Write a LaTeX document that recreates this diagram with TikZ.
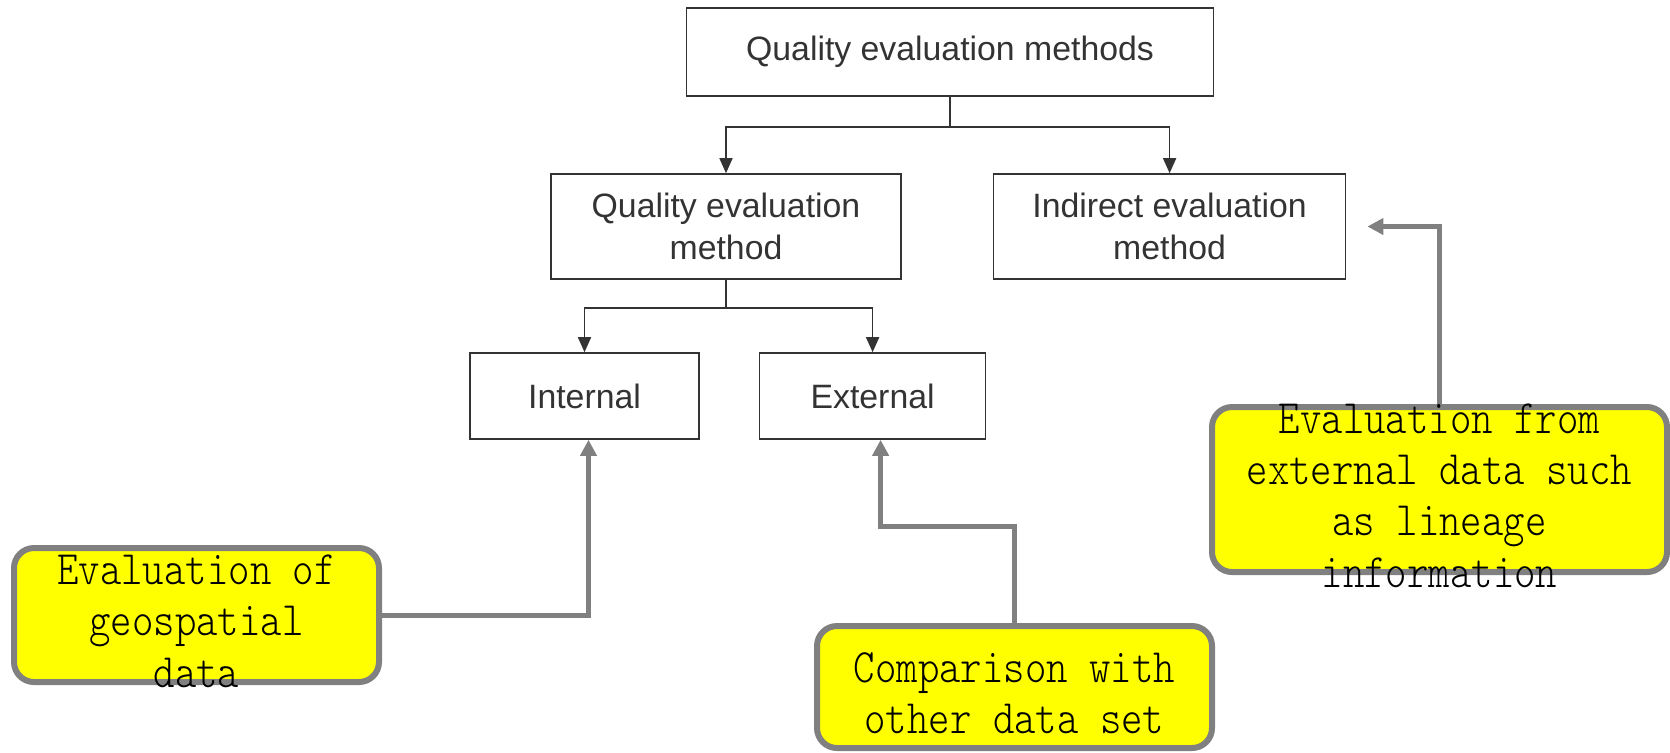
\documentclass[tikz,border=0pt]{standalone}
\usepackage{fontspec}
\setmainfont{Liberation Sans}
\newfontfamily\notefont{lmmonolt10-regular.otf}[FakeStretch=0.85]
\usetikzlibrary{positioning,calc,arrows.meta}
\definecolor{boxline}{RGB}{51,51,51}
\definecolor{notegray}{RGB}{128,128,128}
\definecolor{noteyellow}{RGB}{255,255,0}
\tikzset{
  box/.style={draw=boxline, line width=0.8pt, text=boxline, align=center,
    font=\fontsize{16.9}{21.3}\selectfont, inner sep=0pt},
  link/.style={draw=boxline, line width=0.8pt, -{Triangle[length=7.5pt,width=6.5pt]}},
  note/.style={draw=notegray, fill=noteyellow, line width=3pt, rounded corners=10pt, inner sep=0pt},
  notetext/.style={align=center, font=\notefont\fontsize{24}{25.7}\selectfont, inner sep=0pt, yshift=-3pt},
  callout/.style={draw=notegray, line width=2.5pt, -{Triangle[length=8pt,width=8pt]}},
}

\begin{document}
\begin{tikzpicture}[x=0.5pt, y=-0.5pt]
        \useasboundingbox (0,0) rectangle (1670,752);
        % hierarchy
        \node[box, minimum width=263.5pt, minimum height=44pt] (top) at (950,52) {Quality evaluation methods};
        \node[box, minimum width=175pt, minimum height=52.5pt] (qem) at (726,226.5) {Quality evaluation\\method};
        \node[box, minimum width=176pt, minimum height=52.5pt, right=45.5pt of qem] (ind) {Indirect evaluation\\method};
        \node[box, minimum width=114.5pt, minimum height=43pt] (int) at (584.5,396) {Internal};
        \node[box, minimum width=113pt, minimum height=43pt, right=29.5pt of int] (ext) {External};
        \draw[link] (top.south) -- ++(0,-15pt) -| (qem.north);
        \draw[link] (top.south) -- ++(0,-15pt) -| (ind.north);
        \draw[link] (qem.south) -- ++(0,-14pt) -| (int.north);
        \draw[link] (qem.south) -- ++(0,-14pt) -| (ext.north);
        % notes
        \node[note, minimum width=182.5pt, minimum height=67pt] (geo) at (196.5,615) {};
        \node[notetext] (geotxt) at (geo) {Evaluation of\\geospatial\\data};
        \node[note, minimum width=197.5pt, minimum height=61pt] (cmp) at (1014.5,687) {};
        \node[notetext] (cmptxt) at (cmp) {Comparison with\\other data set};
        \node[note, minimum width=227.5pt, minimum height=82.5pt] (lin) at (1439.5,489.5) {};
        \node[notetext] (lintxt) at (lin) {Evaluation from\\external data such\\as lineage\\information};
        \draw[callout] (geo.east) -| ($(int.south)+(2pt,0)$);
        \draw[callout] (cmp.north) -- ++(0,48.5pt) -| ($(ext.south)+(4pt,0)$);
        \draw[callout] (lin.north) |- ($(ind.east)+(10.5pt,0)$);
\end{tikzpicture}
\end{document}
